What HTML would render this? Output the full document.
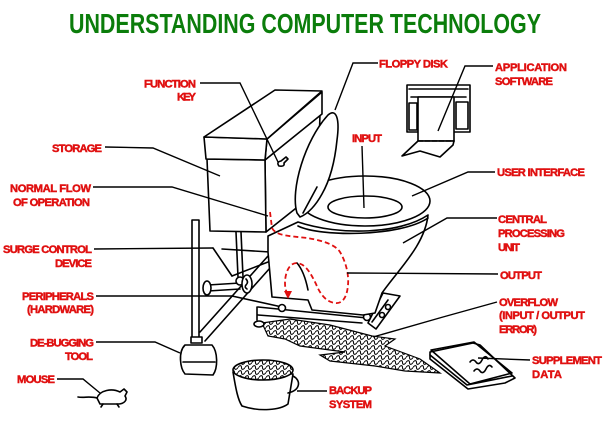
<!DOCTYPE html>
<html><head><meta charset="utf-8"><style>
html,body{margin:0;padding:0;background:#fff;width:604px;height:423px;overflow:hidden}
svg{display:block}
.l{font-family:"Liberation Sans",Arial,sans-serif;font-weight:bold;font-size:11.2px;fill:#e01010;stroke:#e01010;stroke-width:0.45px}
.t{font-family:"Liberation Sans Narrow","Liberation Sans",Arial,sans-serif;font-weight:bold;font-size:28px;fill:#0b7d0b}
.k{stroke:#000;stroke-width:1.6;fill:none;stroke-linejoin:round;stroke-linecap:round}
.w{stroke:#000;stroke-width:1.6;fill:#fff;stroke-linejoin:round}
.ld{stroke:#000;stroke-width:1.4;fill:none}
</style></head><body>
<svg width="604" height="423" viewBox="0 0 604 423" xmlns="http://www.w3.org/2000/svg">
<defs>
<pattern id="tx" width="7" height="5" patternUnits="userSpaceOnUse">
<rect width="7" height="5" fill="#fff"/>
<path d="M0,2.5 C1.5,0 3.5,0 3.5,2.5 S5.5,5 7,2.5" stroke="#000" stroke-width="1" fill="none"/>
</pattern>
</defs>
<rect width="604" height="423" fill="#fff"/>

<text class="t" x="69" y="33" textLength="472" lengthAdjust="spacingAndGlyphs">UNDERSTANDING COMPUTER TECHNOLOGY</text>

<!-- spill -->
<path d="M262,323 L290,319 L330,325 L372,336 L395,339 L385,346 L420,359 L440,373 L405,371 L375,366 L330,361 L320,355 L345,352 L300,346 L285,339 L268,336 Z" fill="url(#tx)" stroke="#000" stroke-width="1.2"/>

<!-- frame -->
<path class="k" d="M213,248 L232,276"/>
<path class="k" d="M222,249 L270,252"/>
<path class="k" d="M232,276 L268,262"/>
<path class="k" d="M200,332 L268,256"/>
<path class="k" d="M205,341 L270,268"/>
<path class="k" d="M232,296 L282,307"/>
<path class="k" d="M236,232 L238,277 M241,232 L243,277"/>
<path class="k" d="M208,285 L240,283 M208,291 L240,289"/>
<ellipse class="w" cx="207" cy="288" rx="4" ry="7"/>
<circle class="w" cx="240" cy="281" r="4"/>
<ellipse class="w" cx="247" cy="284" rx="5" ry="9"/>
<path class="k" d="M246,279 q3,3 0,6 q-2,2 1,4"/>

<!-- base plate -->
<path class="k" d="M258,307 L367,318 M258,315 L362,323 M257,307 L257,320"/>
<ellipse class="w" cx="259" cy="324" rx="5" ry="3"/>
<path class="w" d="M383,293 L400,296 L376,329 L368,323 Z"/>
<path class="k" d="M388,300 L372,322"/>
<circle class="w" cx="282" cy="308" r="3.5"/>
<circle class="w" cx="367" cy="317" r="3.5"/>
<circle class="w" cx="388" cy="307" r="2.5"/>
<circle class="w" cx="382" cy="315" r="2.5"/>

<!-- bowl / pedestal -->
<path class="w" d="M268,236 L298,222 C340,236 400,234 428,215 C425,245 398,270 382,293 L375,313 L363,315 L312,310 L308,300 L272,297 L268,252 Z"/>
<path class="k" d="M297,263 C303,270 306,280 308,290"/>

<!-- seat ring -->
<ellipse class="w" cx="365" cy="201" rx="65" ry="25"/>
<path class="k" d="M298,226 C320,237 400,237 428,218"/>
<ellipse class="k" cx="365" cy="207" rx="37" ry="11"/>

<!-- tank -->
<path class="w" d="M265,160 L320,114 L318,180 L300,205 L266,232 Z"/>
<path class="w" d="M207,159 L265,160 L266,232 L210,231 Z"/>
<path class="w" d="M267,139 L322,92 L322,114 L265,160 Z"/>
<path class="w" d="M204,137 L267,139 L265,160 L206,159 Z"/>
<path class="w" d="M204,137 L275,90 L322,91 L267,139 Z"/>
<path class="k" d="M279,166 q-3,-4 2,-5 l5,-4 l2,2 l-4,4 q1,4 -5,3z"/>

<!-- raised seat lid -->
<path class="w" d="M297,213 C290,190 305,140 328,115 C336,108 340,118 337,140 C335,160 330,180 322,194 C316,205 308,214 300,217 Z"/>
<path class="k" d="M317,187 L303,213"/>

<!-- red flow -->
<path d="M270,212 L272,228 C276,236 290,236 307,238 C320,240 335,244 340,252 C346,262 349,275 348,285 C347,298 342,304 335,303 C326,302 320,294 316,284 C311,274 306,264 297,263 C288,263 285,275 285,283 C285,290 287,293 288,295" stroke="#e01010" stroke-width="1.8" fill="none" stroke-dasharray="5 3"/>
<path d="M284,291 L292,291 L288,299 Z" fill="#e01010"/>

<!-- plunger -->
<rect class="w" x="192" y="220" width="7" height="118"/>
<rect class="w" x="191" y="337" width="11" height="6"/>
<path class="w" d="M185,345 C178,352 180,368 185,374 L213,375 C218,368 218,352 212,345 Z"/>
<path class="k" d="M183,362 L215,362"/>

<!-- toilet paper holder -->
<rect class="k" x="407" y="85" width="63" height="47"/>
<path class="k" d="M409,89 L468,89 M411,97 L466,97"/>
<rect class="k" x="409" y="103" width="8" height="27"/>
<rect class="k" x="456" y="102" width="12" height="27"/>
<rect class="w" x="418" y="97" width="36" height="44"/>
<path class="w" d="M418,141 L402,156 L420,151 L440,157 L453,145 L454,141 Z"/>
<path class="k" d="M418,141 L454,141" stroke-dasharray="5 2"/>

<!-- bucket -->
<path class="w" d="M233,372 C236,390 238,400 242,406 C260,412 280,410 288,404 L293,374 Z"/>
<ellipse cx="263" cy="370" rx="30" ry="10" fill="url(#tx)" stroke="#000" stroke-width="1.6"/>
<path class="k" d="M293,376 C301,380 301,390 288,393"/>

<!-- mouse -->
<path class="w" d="M97,398 C100,390 112,388 120,392 L124,389 L127,392 L125,396 C128,400 124,404 118,404 L100,404 Z"/>
<path class="k" d="M97,398 C90,396 84,398 78,397 M103,404 l-2,3 M117,404 l2,3"/>

<!-- book -->
<path class="w" d="M430,352 L473,343 L480,345 L515,378 L505,383 L468,389 L430,359 Z"/>
<path class="k" d="M430,355 L467,385 L512,376 M431,350 L474,342 L512,373 L470,384 Z"/>
<path class="k" stroke-width="1.2" d="M470,362 q3,-4 6,0 t6,-2 t6,-1 M474,371 q3,-4 6,0 t6,-2 t6,-2"/>

<!-- leader lines -->
<path class="ld" d="M200,83 L240,83 L278,162"/>
<path class="ld" d="M105,147 L153,148 L220,176"/>
<path class="ld" d="M93,187 L172,187 L268,216"/>
<path class="ld" d="M94,249 L213,248"/>
<path class="ld" d="M96,296 L232,296"/>
<path class="ld" d="M96,342 L155,342 L180,353"/>
<path class="ld" d="M57,379 L83,379 L100,393"/>
<path class="ld" d="M378,63 L353,63 L335,110"/>
<path class="ld" d="M493,66 L465,66 L438,131"/>
<path class="ld" d="M362,146 L364,208"/>
<path class="ld" d="M495,172 L468,172 L412,196"/>
<path class="ld" d="M497,218 L447,218 L403,243"/>
<path class="ld" d="M498,274 L347,273"/>
<path class="ld" d="M497,302 L443,317 L373,337"/>
<path class="ld" d="M530,360 L478,358"/>
<path class="ld" d="M327,391 L297,391"/>

<!-- labels -->
<text class="l" x="144" y="87.5" textLength="52">FUNCTION</text>
<text class="l" x="177" y="100.7" textLength="19">KEY</text>
<text class="l" x="52" y="152" textLength="50">STORAGE</text>
<text class="l" x="10" y="192" textLength="81">NORMAL FLOW</text>
<text class="l" x="13" y="206" textLength="77">OF OPERATION</text>
<text class="l" x="3" y="253" textLength="89">SURGE CONTROL</text>
<text class="l" x="55" y="267" textLength="37">DEVICE</text>
<text class="l" x="22" y="300" textLength="72">PERIPHERALS</text>
<text class="l" x="27" y="313" textLength="67">(HARDWARE)</text>
<text class="l" x="30" y="346.5" textLength="64">DE-BUGGING</text>
<text class="l" x="65" y="360" textLength="28">TOOL</text>
<text class="l" x="17" y="383" textLength="38">MOUSE</text>
<text class="l" x="379" y="67.3" textLength="69">FLOPPY DISK</text>
<text class="l" x="495" y="71" textLength="72">APPLICATION</text>
<text class="l" x="495" y="85" textLength="58">SOFTWARE</text>
<text class="l" x="352" y="142" textLength="30">INPUT</text>
<text class="l" x="497" y="176" textLength="88">USER INTERFACE</text>
<text class="l" x="498" y="223" textLength="49">CENTRAL</text>
<text class="l" x="498" y="237" textLength="67">PROCESSING</text>
<text class="l" x="498" y="251" textLength="22">UNIT</text>
<text class="l" x="500" y="279" textLength="42">OUTPUT</text>
<text class="l" x="499" y="306" textLength="59">OVERFLOW</text>
<text class="l" x="499" y="319" textLength="86">(INPUT / OUTPUT</text>
<text class="l" x="499" y="333" textLength="38">ERROR)</text>
<text class="l" x="532" y="364" textLength="70">SUPPLEMENT</text>
<text class="l" x="532" y="378" textLength="30">DATA</text>
<text class="l" x="329" y="394" textLength="43">BACKUP</text>
<text class="l" x="329" y="408" textLength="43">SYSTEM</text>
</svg>
</body></html>
